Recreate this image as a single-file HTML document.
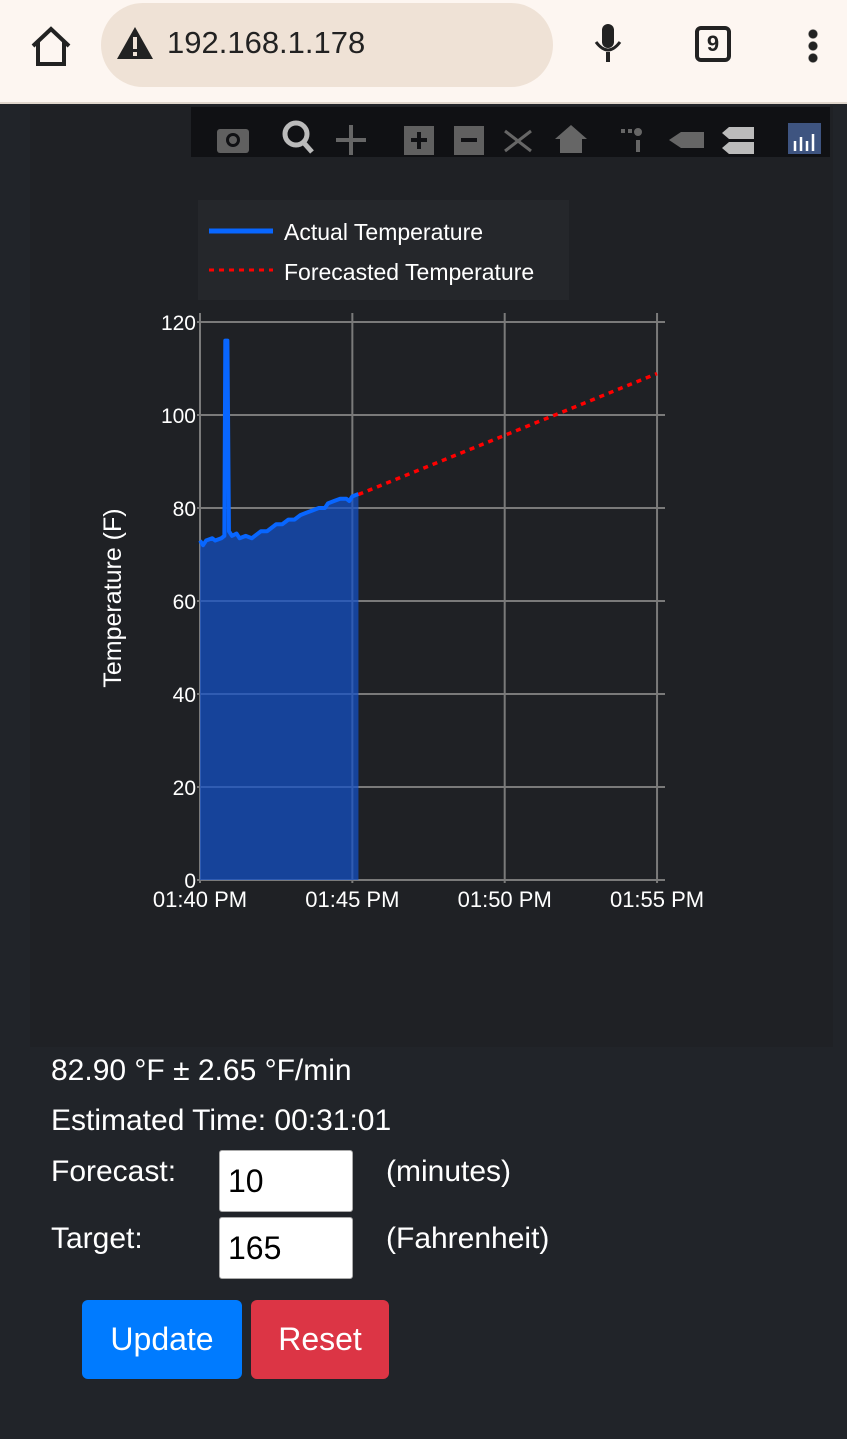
<!DOCTYPE html>
<html><head><meta charset="utf-8">
<style>
*{box-sizing:border-box;margin:0;padding:0}
body{width:847px;height:1439px;background:#212429;font-family:"Liberation Sans",sans-serif;overflow:hidden;position:relative;color:#fff}
.abs{position:absolute}
.lbl{font-size:30px;color:#fff;white-space:nowrap}
input{position:absolute;width:134px;height:62px;border:1px solid #aaa;border-radius:3px;background:#fff;font-size:32px;padding-left:8px;font-family:"Liberation Sans",sans-serif;color:#000}
.btn{position:absolute;height:79px;border-radius:6px;color:#fff;font-size:32px;display:flex;align-items:center;justify-content:center}
</style></head><body>
<div class="abs" style="left:0;top:0;width:847px;height:104px;background:#fdf6f1;border-bottom:2px solid #e0d6cc">
  <svg class="abs" style="left:28px;top:24px" width="46" height="44" viewBox="0 0 46 44"><path d="M5 22 L23 5 L41 22 M10 18 V40 H36 V18" fill="none" stroke="#222" stroke-width="4"/></svg>
  <div class="abs" style="left:101px;top:3px;width:452px;height:84px;border-radius:42px;background:#efe2d6">
    <svg class="abs" style="left:14px;top:22px" width="40" height="36" viewBox="0 0 40 36"><path d="M20 2 L38 34 H2 Z" fill="#222"/><rect x="18" y="12" width="4" height="12" fill="#efe2d6"/><rect x="18" y="27" width="4" height="4" fill="#efe2d6"/></svg>
    <div class="abs" style="left:66px;top:22px;font-size:31px;color:#222">192.168.1.178</div>
  </div>
  <svg class="abs" style="left:592px;top:22px" width="32" height="44" viewBox="0 0 32 44"><rect x="10" y="2" width="12" height="24" rx="6" fill="#222"/><path d="M4 20 Q16 36 28 20" fill="none" stroke="#222" stroke-width="3"/><rect x="14" y="30" width="4" height="10" fill="#222"/></svg>
  <div class="abs" style="left:695px;top:26px;width:36px;height:36px;border:4px solid #222;border-radius:6px;font-size:22px;color:#222;text-align:center;line-height:28px;font-weight:bold">9</div>
  <div class="abs" style="left:808px;top:28px;width:10px;height:36px;background:radial-gradient(circle,#222 4px,transparent 5px) 0 0/10px 12px repeat-y"></div>
</div>
<div class="abs" style="left:30px;top:106px;width:803px;height:941px;background:#1f2125"></div>
<div class="abs" style="left:191px;top:107px;width:639px;height:50px;background:#101114">
<svg width="639" height="50">
<rect x="26" y="22" width="32" height="24" rx="3" fill="#606060"/><circle cx="42" cy="33" r="7" fill="#101114"/><circle cx="42" cy="33" r="4" fill="#606060"/>
<circle cx="105" cy="27" r="11" fill="none" stroke="#bbb" stroke-width="5"/><line x1="113" y1="36" x2="121" y2="45" stroke="#bbb" stroke-width="5"/>
<path d="M160 18 V48 M145 33 H175" stroke="#666" stroke-width="4"/>
<rect x="213" y="19" width="30" height="29" fill="#606060"/><path d="M228 25 V42 M220 33 H236" stroke="#101114" stroke-width="4"/>
<rect x="263" y="19" width="30" height="29" fill="#606060"/><path d="M270 33 H286" stroke="#101114" stroke-width="4"/>
<path d="M314 24 L340 44 M340 24 L314 44" stroke="#666" stroke-width="3"/>
<path d="M380 18 L364 32 H369 V46 H391 V32 H396 Z" fill="#666"/>
<circle cx="447" cy="25" r="4" fill="#666"/><rect x="445" y="33" width="4" height="12" fill="#666"/><rect x="430" y="22" width="4" height="4" fill="#666"/><rect x="437" y="22" width="4" height="4" fill="#666"/>
<path d="M478 33 L490 25 H513 V41 H490 Z" fill="#666"/>
<path d="M531 26 L538 20 H563 V32 H538 Z M531 41 L538 35 H563 V47 H538 Z" fill="#bbb"/>
<rect x="597" y="16" width="33" height="31" fill="#3e5480"/><path d="M604 34V44M610 30V44M616 34V44M622 27V44" stroke="#fff" stroke-width="2.5"/>
</svg></div>

<svg class="abs" style="left:0;top:0" width="847" height="1000" id="chart">
<g>
<rect x="198" y="200" width="371" height="100" fill="#25272b"/>
<line x1="209" y1="231" x2="273" y2="231" stroke="#0866ff" stroke-width="5"/>
<text x="284" y="240" font-size="23" fill="#fff">Actual Temperature</text>
<line x1="209" y1="270" x2="273" y2="270" stroke="#f00" stroke-width="3" stroke-dasharray="5,5"/>
<text x="284" y="280" font-size="23" fill="#fff">Forecasted Temperature</text>
</g>
<g id="grid"></g><g id="marks"></g><g id="axes"></g>
<text transform="translate(121,598) rotate(-90)" text-anchor="middle" font-size="25" fill="#fff">Temperature (F)</text>
</svg>

<div class="abs lbl" style="left:51px;top:1054px">82.90 °F ± 2.65 °F/min</div>
<div class="abs lbl" style="left:51px;top:1104px">Estimated Time: 00:31:01</div>
<div class="abs lbl" style="left:51px;top:1155px">Forecast:</div>
<input style="left:219px;top:1150px" value="10">
<div class="abs lbl" style="left:386px;top:1155px">(minutes)</div>
<div class="abs lbl" style="left:51px;top:1222px">Target:</div>
<input style="left:219px;top:1217px" value="165">
<div class="abs lbl" style="left:386px;top:1222px">(Fahrenheit)</div>
<div class="btn" style="left:82px;top:1300px;width:160px;background:#007bff">Update</div>
<div class="btn" style="left:251px;top:1300px;width:138px;background:#dc3545">Reset</div>

<script>
const xTickLabels=["01:40 PM","01:45 PM","01:50 PM","01:55 PM"];
const xTickMinutes=[0,5,10,15];
const yTicks=[0,20,40,60,80,100,120];
const actualMinutes=[0,0.1,0.2,0.4,0.5,0.7,0.8,0.83,0.9,0.95,1.05,1.2,1.3,1.5,1.7,1.9,2.0,2.2,2.4,2.5,2.7,2.9,3.1,3.3,3.5,3.7,3.9,4.1,4.2,4.4,4.6,4.8,4.9,5.0,5.2];
const actualTemps=[73,72,73,73.5,73,73.5,74,116,116,75,74,74.5,73.5,74,73.5,74.5,75,75,76,76.5,76.5,77.5,77.5,78.5,79,79.5,80,80,81,81.5,82,82,81.5,82.5,83];
const forecastMinutes=[5.2,15];
const forecastTemps=[82.9,108.9];
const X=m=>200+m*30.47, Y=v=>880-v*4.65;
const NS="http://www.w3.org/2000/svg";
function mk(parent,tag,attrs){const e=document.createElementNS(NS,tag);for(const k in attrs)e.setAttribute(k,attrs[k]);document.getElementById(parent).appendChild(e);return e;}
yTicks.forEach(v=>{
  const l=mk('grid','line',{x1:197,x2:665,y1:Y(v),y2:Y(v),stroke:'#7a7a7a','stroke-width':2});
  
  
  const t=mk('axes','text',{x:196,y:Y(v)+8,'text-anchor':'end','font-size':21,fill:'#fff'});t.textContent=v;
  
  
});
xTickMinutes.forEach((m,i)=>{
  const l=mk('grid','line',{x1:X(m),x2:X(m),y1:313,y2:883,stroke:'#7a7a7a','stroke-width':2});
  
  
  const t=mk('axes','text',{x:X(m),y:907,'text-anchor':'middle','font-size':22,fill:'#fff'});t.textContent=xTickLabels[i];
  
  
});
let pts=actualMinutes.map((m,i)=>X(m)+','+Y(actualTemps[i])).join(' ');
const area=mk('marks','polygon',{points:X(actualMinutes[0])+','+Y(0)+' '+pts+' '+X(actualMinutes[actualMinutes.length-1])+','+Y(0),fill:'rgba(20,80,200,0.72)'});


const line=mk('marks','polyline',{points:pts,fill:'none',stroke:'#0866ff','stroke-width':4,'stroke-linejoin':'round'});


const fl=mk('marks','polyline',{points:forecastMinutes.map((m,i)=>X(m)+','+Y(forecastTemps[i])).join(' '),fill:'none',stroke:'#f00','stroke-width':3.5,'stroke-dasharray':'5,5'});


</script>
</body></html>
